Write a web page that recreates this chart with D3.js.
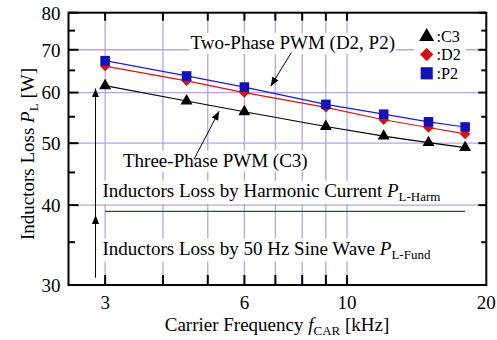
<!DOCTYPE html>
<html><head><meta charset="utf-8">
<script src="https://cdn.jsdelivr.net/npm/d3@7"></script>
<style>
body{margin:0;background:#fff;}
text{font-family:"Liberation Serif","Times New Roman",serif;fill:#000;}
</style></head>
<body><svg id="c" width="497" height="340"></svg>
<script>
// ---- data ----
const freqs = [3, 4.5, 6, 9, 12, 15, 18];
const c3 = [61.5, 58.2, 56.0, 53.1, 51.3, 50.1, 49.2];
const d2 = [66.0, 62.6, 60.0, 56.9, 54.4, 52.9, 51.7];
const p2 = [67.3, 63.7, 61.2, 57.5, 55.5, 54.0, 53.0];
const harmRange = [3, 18];
const harmLevel = 39.1;
const xLabelTicks = [3, 6, 10, 20];
const xMinorTicks = [3, 4, 5, 6, 7, 8, 9, 10];
const yMajorTicks = [30, 40, 50, 60, 70, 80];
const yMinorTicks = [35, 45, 55, 65, 75];
const yGrid = [40, 50, 60, 70];
const legendNames = [":C3", ":D2", ":P2"];

const FS = 19, SUB = 13, LFS = 16.2;
const svg = d3.select("#c");
const L = 68.5, R = 486.3, T = 12.7, B = 285;
const x = d3.scaleLog().domain([2.5, 20]).range([L, R]);
const y = d3.scaleLog().domain([30, 80]).range([B, T]);
const grid = "#b6a2ee";

const gG = svg.append("g");
xMinorTicks.forEach(v => gG.append("line").attr("x1", x(v)).attr("x2", x(v)).attr("y1", T).attr("y2", B).attr("stroke", grid).attr("stroke-width", 1.3));
yGrid.forEach(v => gG.append("line").attr("x1", L).attr("x2", R).attr("y1", y(v)).attr("y2", y(v)).attr("stroke", grid).attr("stroke-width", 1.3));

const annG = svg.append("g");
function label(px, py, parts) {
  const t = annG.append("text").attr("x", px).attr("y", py).attr("font-size", FS);
  parts.forEach(p => {
    const s = t.append("tspan").text(p.t);
    if (p.i) s.attr("font-style", "italic");
    if (p.sub) s.attr("font-size", SUB).attr("dy", 4);
  });
  const bb = t.node().getBBox();
  annG.insert("rect", function(){ return t.node(); })
    .attr("x", bb.x - 1).attr("y", bb.y + 1).attr("width", bb.width + 2).attr("height", bb.height - 1).attr("fill", "#fff");
  return t;
}
label(190.5, 49, [{t: "Two-Phase PWM (D2, P2)"}]);
label(123, 166.5, [{t: "Three-Phase PWM (C3)"}]);
label(102.5, 196.7, [{t: "Inductors Loss by Harmonic Current "}, {t: "P", i: 1}, {t: "L-Harm", sub: 1}]);
label(102.5, 254.5, [{t: "Inductors Loss by 50 Hz Sine Wave "}, {t: "P", i: 1}, {t: "L-Fund", sub: 1}]);

// harmonic level line
svg.append("line").attr("x1", x(harmRange[0])).attr("x2", x(harmRange[1]))
  .attr("y1", y(harmLevel)).attr("y2", y(harmLevel)).attr("stroke", "#116611").attr("stroke-width", 1.2);

// arrows
svg.append("defs").append("marker").attr("id", "ah").attr("viewBox", "0 0 10 10")
  .attr("refX", 10).attr("refY", 5).attr("markerWidth", 9).attr("markerHeight", 9)
  .attr("markerUnits", "userSpaceOnUse").attr("orient", "auto")
  .append("path").attr("d", "M0,1 L10,5 L0,9 Z").attr("fill", "#000");
const arrows = [
  [[2.86, 30.8], [2.86, 38.6]],
  [[2.86, 38.6], [2.86, 60.9]],
  [[4.67, 47.2], [5.29, 56.1]],
  [[7.58, 69.3], [6.84, 61.4]]
];
arrows.forEach(a => svg.append("line").attr("x1", x(a[0][0])).attr("y1", y(a[0][1]))
  .attr("x2", x(a[1][0])).attr("y2", y(a[1][1])).attr("stroke", "#000").attr("stroke-width", 1)
  .attr("marker-end", "url(#ah)"));

// series
const series = [
  {v: c3, line: "#000", fill: "#000", sym: d3.symbolTriangle, size: 62, rot: 0},
  {v: d2, line: "#e01010", fill: "#d40f0f", sym: d3.symbolSquare, size: 55, rot: 45},
  {v: p2, line: "#1a1ae0", fill: "#1212b8", sym: d3.symbolSquare, size: 92, rot: 0}
];
const lineGen = d3.line().x(d => x(d[0])).y(d => y(d[1]));
series.forEach(s => {
  const pts = freqs.map((f, i) => [f, s.v[i]]);
  svg.append("path").attr("d", lineGen(pts)).attr("fill", "none").attr("stroke", s.line).attr("stroke-width", 1.2);
});
series.forEach(s => {
  const pts = freqs.map((f, i) => [f, s.v[i]]);
  svg.append("g").selectAll("path").data(pts).join("path")
    .attr("d", d3.symbol().type(s.sym).size(s.size))
    .attr("transform", d => `translate(${x(d[0])},${y(d[1])}) rotate(${s.rot})`)
    .attr("fill", s.fill);
});

// legend
const lg = svg.append("g");
lg.append("rect").attr("x", 414).attr("y", 25).attr("width", 52).attr("height", 58).attr("fill", "#fff");
series.forEach((s, i) => {
  const cy = 35.7 + i * 18.8;
  lg.append("path").attr("d", d3.symbol().type(s.sym).size(s.size * 1.6))
    .attr("transform", `translate(426.7,${cy + (i === 0 ? 1 : 0)}) rotate(${s.rot})`).attr("fill", s.fill);
  lg.append("text").attr("x", 436.5).attr("y", cy + 5.8).attr("font-size", LFS).text(legendNames[i]);
});

// axes frame
const ax = svg.append("g").attr("stroke", "#000");
ax.append("rect").attr("x", L).attr("y", T).attr("width", R - L).attr("height", B - T)
  .attr("fill", "none").attr("stroke-width", 2);
xMinorTicks.forEach(v => {
  ax.append("line").attr("x1", x(v)).attr("x2", x(v)).attr("y1", B).attr("y2", B - 10).attr("stroke-width", 2);
  ax.append("line").attr("x1", x(v)).attr("x2", x(v)).attr("y1", T).attr("y2", T + 8).attr("stroke-width", 2);
});
yMajorTicks.forEach(v => {
  ax.append("line").attr("x1", L).attr("x2", L + 10).attr("y1", y(v)).attr("y2", y(v)).attr("stroke-width", 2);
  ax.append("line").attr("x1", R).attr("x2", R - 8).attr("y1", y(v)).attr("y2", y(v)).attr("stroke-width", 2);
});
yMinorTicks.forEach(v => {
  ax.append("line").attr("x1", L).attr("x2", L + 6.5).attr("y1", y(v)).attr("y2", y(v)).attr("stroke-width", 2);
  ax.append("line").attr("x1", R).attr("x2", R - 5).attr("y1", y(v)).attr("y2", y(v)).attr("stroke-width", 2);
});

// tick labels
yMajorTicks.forEach(v => svg.append("text").attr("x", 60.5).attr("y", y(v) + 6.8)
  .attr("text-anchor", "end").attr("font-size", FS).text(v));
xLabelTicks.forEach(v => svg.append("text").attr("x", x(v)).attr("y", 309)
  .attr("text-anchor", "middle").attr("font-size", FS).text(v));

// axis titles
const xt = svg.append("text").attr("x", 277).attr("y", 331).attr("text-anchor", "middle").attr("font-size", FS);
xt.append("tspan").text("Carrier Frequency ");
xt.append("tspan").attr("font-style", "italic").text("f");
xt.append("tspan").attr("font-size", SUB).attr("dy", 4).text("CAR");
xt.append("tspan").attr("dy", -4).text(" [kHz]");

const yt = svg.append("text").attr("transform", "translate(34,154) rotate(-90)").attr("text-anchor", "middle").attr("font-size", FS);
yt.append("tspan").text("Inductors Loss ");
yt.append("tspan").attr("font-style", "italic").text("P");
yt.append("tspan").attr("font-size", SUB).attr("dy", 4).text("L");
yt.append("tspan").attr("dy", -4).text(" [W]");
</script></body></html>
